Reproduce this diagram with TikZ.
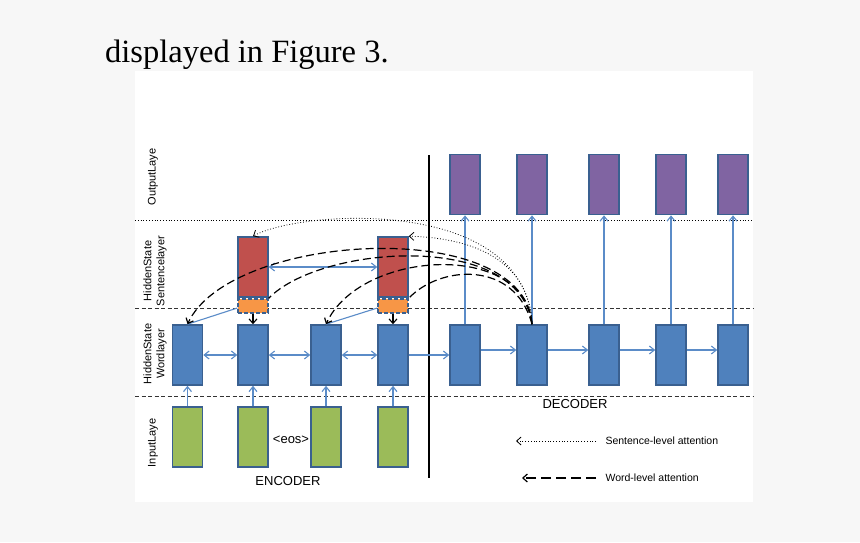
\documentclass[tikz,border=0pt]{standalone}
\usepackage{fontspec}
\setmainfont{Liberation Serif}
\setsansfont{Liberation Sans}
\usetikzlibrary{arrows.meta}
\definecolor{bgc}{HTML}{F7F7F7}
\definecolor{bluef}{HTML}{4F81BD}
\definecolor{blued}{HTML}{3A6090}
\definecolor{bluel}{HTML}{5B8CC8}
\definecolor{greenf}{HTML}{9BBB59}
\definecolor{redf}{HTML}{C0504D}
\definecolor{purplef}{HTML}{8064A2}
\definecolor{orangef}{HTML}{F79646}
\tikzset{
  cell/.style={draw=blued, line width=1.6pt, minimum width=30pt, minimum height=60pt, inner sep=0pt},
  wordbox/.style={cell, fill=bluef},
  inbox/.style={cell, fill=greenf},
  outbox/.style={cell, fill=purplef},
  sentbox/.style={cell, fill=redf},
  orbox/.style={draw=blued, line width=1.3pt, dash pattern=on 4pt off 2pt, fill=orangef, minimum width=30pt, minimum height=14pt, inner sep=0pt},
  bluearrow/.style={draw=bluel, line width=1.1pt, -{Straight Barb[length=5pt,width=8pt]}},
  bluebi/.style={draw=bluel, line width=1.1pt, {Straight Barb[length=5pt,width=8pt]}-{Straight Barb[length=5pt,width=8pt]}},
  blueline/.style={draw=bluel, line width=1.1pt},
  wordatt/.style={draw=black, line width=1.2pt, dash pattern=on 8pt off 4pt},
  sentatt/.style={draw=black, line width=0.8pt, dotted},
  blacktip/.style={-{Straight Barb[length=4.5pt,width=8pt]}},
  layerlab/.style={rotate=90, font=\sffamily\fontsize{11}{13}\selectfont, align=center},
  smalllab/.style={font=\sffamily\fontsize{13}{15}\selectfont},
  leglab/.style={font=\sffamily\fontsize{10.5}{12}\selectfont, anchor=west}
}
\begin{document}
\begin{tikzpicture}[x=1pt,y=-1pt]
\useasboundingbox (0,0) rectangle (860,542);
\fill[bgc] (0,0) rectangle (860,542);
\fill[white] (135,71) rectangle (753,502);
\node[anchor=base west, font=\fontsize{32.5}{36}\selectfont, inner sep=0pt] (title) at (105,62) {displayed in Figure 3.};

% layer separators
\coordinate (l1a) at (135,220); \coordinate (l1b) at (753,220);
\coordinate (l2a) at (135,308); \coordinate (l2b) at (753,308);
\coordinate (l3a) at (135,396); \coordinate (l3b) at (753,396);
\draw[line width=0.8pt, dotted] (l1a) -- (l1b);
\draw[line width=0.9pt, dash pattern=on 4pt off 2.5pt, black!80] (l2a) -- (l2b);
\draw[line width=0.9pt, dash pattern=on 4pt off 2.5pt, black!80] (l3a) -- (l3b);
% vertical divider
\coordinate (va) at (429,155); \coordinate (vb) at (429,478);
\draw[line width=1.3pt] (va) -- (vb);

% layer labels
\node[layerlab] (lout) at (153,177) {OutputLaye};
\node[layerlab] (lsent) at (155,271) {HiddenState\\Sentencelayer};
\node[layerlab] (lword) at (155,354) {HiddenState\\Wordlayer};
\node[layerlab] (lin) at (153,443) {InputLaye};

% encoder
\foreach \n/\x in {1/187.5,2/253,3/326,4/393}{
  \node[inbox] (i\n) at (\x,437) {};
  \node[wordbox] (e\n) at (\x,355) {};
  \draw[bluearrow] (i\n.north) -- (e\n.south);
}
\node[sentbox] (s1) at (253,267) {};
\node[sentbox] (s2) at (393,267) {};
\node[orbox] (o1) at (253,306) {};
\node[orbox] (o2) at (393,306) {};

\draw[bluebi] (e1.east) -- (e2.west);
\draw[bluebi] (e2.east) -- (e3.west);
\draw[bluebi] (e3.east) -- (e4.west);
\draw[bluebi] (s1.east) -- (s2.west);
\draw[blueline] ([yshift=-2pt]o1.west) -- (e1.north);
\draw[blueline] ([yshift=-2pt]o2.west) -- (e3.north);
\draw[line width=1.1pt, blacktip] (o1.south) -- (e2.north);
\draw[line width=1.1pt, blacktip] (o2.south) -- (e4.north);

% decoder
\foreach \n/\x in {1/465,2/532,3/604,4/671,5/733}{
  \node[wordbox] (d\n) at (\x,355) {};
  \node[outbox] (p\n) at (\x,184.5) {};
  \draw[bluearrow] (d\n.north) -- (p\n.south);
}
\draw[bluearrow] (e4.east) -- (d1.west);
\draw[bluearrow] ([yshift=5pt]d1.east) -- ([yshift=5pt]d2.west);
\draw[bluearrow] ([yshift=5pt]d2.east) -- ([yshift=5pt]d3.west);
\draw[bluearrow] ([yshift=5pt]d3.east) -- ([yshift=5pt]d4.west);
\draw[bluearrow] ([yshift=5pt]d4.east) -- ([yshift=5pt]d5.west);

% word-level attention
\draw[wordatt, blacktip] (d2.north) .. controls (525,215) and (230,232) .. (e1.north);
\draw[wordatt] (d2.north) .. controls (520,230) and (320,245) .. (o1.north east);
\draw[wordatt, blacktip] (d2.north) .. controls (525,240) and (360,250) .. (e3.north);
\draw[wordatt] (d2.north) .. controls (515,260) and (440,265) .. (o2.north east);
% sentence-level attention
\draw[sentatt, blacktip] (d2.north) .. controls (525,195) and (300,210) .. (s1.north);
\draw[sentatt, blacktip] (d2.north) .. controls (530,265) and (480,238) .. (s2.north east);

% labels
\node[smalllab] (eos) at (291,440) {<eos>};
\node[smalllab] (enc) at (288,481) {ENCODER};
\node[smalllab] (dec) at (575,404) {DECODER};

% legend
\coordinate (la1) at (596,441); \coordinate (lb1) at (516,441);
\coordinate (la2) at (596,478); \coordinate (lb2) at (522,478);
\draw[sentatt, blacktip] (la1) -- (lb1);
\draw[wordatt, dash pattern=on 10pt off 5pt, blacktip] (la2) -- (lb2);
\node[leglab] (leg1) at (602,441) {Sentence-level attention};
\node[leglab] (leg2) at (602,478) {Word-level attention};
\end{tikzpicture}
\end{document}
